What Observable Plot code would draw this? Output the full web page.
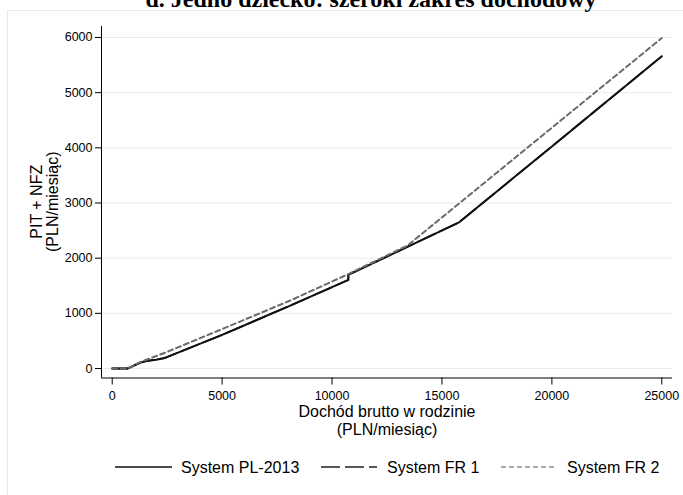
<!DOCTYPE html>
<html>
<head>
<meta charset="utf-8">
<script src="https://cdn.jsdelivr.net/npm/d3@7"></script>
<script src="https://cdn.jsdelivr.net/npm/@observablehq/plot@0.6"></script>
<style>
  body { margin: 0; background: #fff; }
  #wrap { position: relative; width: 683px; height: 495px; overflow: hidden; background: #fff;
          font-family: "Liberation Sans", Arial, Helvetica, sans-serif; }
  #panel { position: absolute; left: 7px; top: 10px; width: 700px; height: 520px;
           border: 1px solid #e2ebee; box-sizing: border-box; }
  #chart { position: absolute; left: 0; top: 0; }
  #title { position: absolute; left: 0; top: 0; }
  #ytitle { position: absolute; left: 0; top: 0; }
  #legend { position: absolute; left: 0; top: 450px; }
</style>
</head>
<body>
<div id="wrap">
  <div id="panel"></div>
  <svg id="title" width="683" height="20">
    <text x="371" y="7" text-anchor="middle" font-family="'Liberation Serif', 'Times New Roman', serif"
          font-weight="bold" font-size="24" fill="#000">d.  Jedno dziecko: szeroki zakres dochodowy</text>
  </svg>
  <div id="chart"></div>
  <div id="legend"></div>
</div>
<script>
// ---- data ----
const plIncome = [0, 700, 1000, 1300, 1600, 2000, 2400, 5000, 8100, 10740, 10740, 13400, 15780, 20000, 25000];
const plTax    = [0, 0, 55, 110, 140, 160, 192, 610, 1140, 1605, 1697, 2200, 2650, 4025, 5660];
// System FR 1 coincides with PL-2013 in this scenario (hidden under the solid line)
const fr1Income = plIncome;
const fr1Tax    = plTax;
const fr2Income = [0, 700, 1000, 1300, 2400, 5000, 8100, 10740, 13430, 25000];
const fr2Tax    = [0, 0, 60, 120, 285, 715, 1232, 1712, 2228, 5990];

const seriesNames = ["System PL-2013", "System FR 1", "System FR 2"];
const xTicks = [0, 5000, 10000, 15000, 20000, 25000];
const yTicks = [0, 1000, 2000, 3000, 4000, 5000, 6000];
const xDomain = [-487, 25487];
const yDomain = [-172, 6199];
const yTitleLines = ["PIT + NFZ", "(PLN/miesiąc)"];
const xTitleLines = ["Dochód brutto w rodzinie", "(PLN/miesiąc)"];

const toRows = (xs, ys, s) => xs.map((x, i) => ({x, y: ys[i], s}));
const pl  = toRows(plIncome, plTax, seriesNames[0]);
const fr1 = toRows(fr1Income, fr1Tax, seriesNames[1]);
const fr2 = toRows(fr2Income, fr2Tax, seriesNames[2]);

const font = "'Liberation Sans', Arial, Helvetica, sans-serif";
const W = 683, H = 445, mL = 101, mR = 11, mT = 26, mB = 67.5;

const plot = Plot.plot({
  width: W,
  height: H,
  marginLeft: mL,
  marginRight: mR,
  marginTop: mT,
  marginBottom: mB,
  style: {fontFamily: font, background: "transparent", overflow: "visible"},
  x: {domain: xDomain},
  y: {domain: yDomain},
  marks: [
    Plot.gridY(yTicks, {stroke: "#e4eef1", strokeOpacity: 1, strokeWidth: 1}),
    Plot.ruleX([xDomain[0]], {stroke: "#000", strokeWidth: 1}),
    Plot.ruleY([yDomain[0]], {stroke: "#000", strokeWidth: 1}),
    Plot.axisY(yTicks, {tickSize: 6, tickPadding: 3, fontSize: 12.5, label: null,
                        tickFormat: d3.format("d"), stroke: "#000"}),
    Plot.axisX(xTicks, {tickSize: 7, tickPadding: 6, fontSize: 12.5, label: null,
                        tickFormat: d3.format("d"), stroke: "#000"}),
    Plot.line(fr1, {x: "x", y: "y", stroke: "#222", strokeWidth: 1.8, strokeDasharray: "19,5"}),
    Plot.line(pl,  {x: "x", y: "y", stroke: "#111", strokeWidth: 2}),
    Plot.line(fr2, {x: "x", y: "y", stroke: "#6a6a6a", strokeWidth: 2, strokeDasharray: "5,3.5"}),
    Plot.text([xTitleLines[0]], {frameAnchor: "bottom", dy: 39, fontSize: 16, fill: "#000"}),
    Plot.text([xTitleLines[1]], {frameAnchor: "bottom", dy: 57, fontSize: 16, fill: "#000"})
  ]
});
document.getElementById("chart").appendChild(plot);

// ---- y-axis title (two rotated lines, centred on the plot frame) ----
const yMid = (mT + (H - mB)) / 2;
const yt = d3.select("#wrap").append("svg").attr("id", "ytitle")
  .attr("width", 100).attr("height", H).style("font-family", font);
[[yTitleLines[0], 36], [yTitleLines[1], 52]].forEach(([t, cx]) => {
  yt.append("text")
    .attr("transform", `translate(${cx},${yMid}) rotate(-90)`)
    .attr("text-anchor", "middle").attr("dy", "0.35em")
    .attr("font-size", 16).attr("fill", "#000").text(t);
});

// ---- legend ----
const legendItems = [
  {name: seriesNames[0], x1: 115, x2: 172, tx: 181, stroke: "#111", dash: null, w: 1.6},
  {name: seriesNames[1], x1: 321, x2: 377, tx: 387, stroke: "#222", dash: "19,5", w: 1.3},
  {name: seriesNames[2], x1: 501, x2: 557, tx: 567, stroke: "#555", dash: "5,3", w: 1.1}
];
const lg = d3.select("#legend").append("svg").attr("width", 683).attr("height", 40)
  .style("font-family", font);
const ly = 17;
legendItems.forEach(it => {
  const l = lg.append("line").attr("x1", it.x1).attr("x2", it.x2).attr("y1", ly).attr("y2", ly)
    .attr("stroke", it.stroke).attr("stroke-width", it.w);
  if (it.dash) l.attr("stroke-dasharray", it.dash);
  lg.append("text").attr("x", it.tx).attr("y", ly).attr("dy", "0.35em")
    .attr("font-size", 16).attr("fill", "#000").text(it.name);
});
</script>
</body>
</html>
